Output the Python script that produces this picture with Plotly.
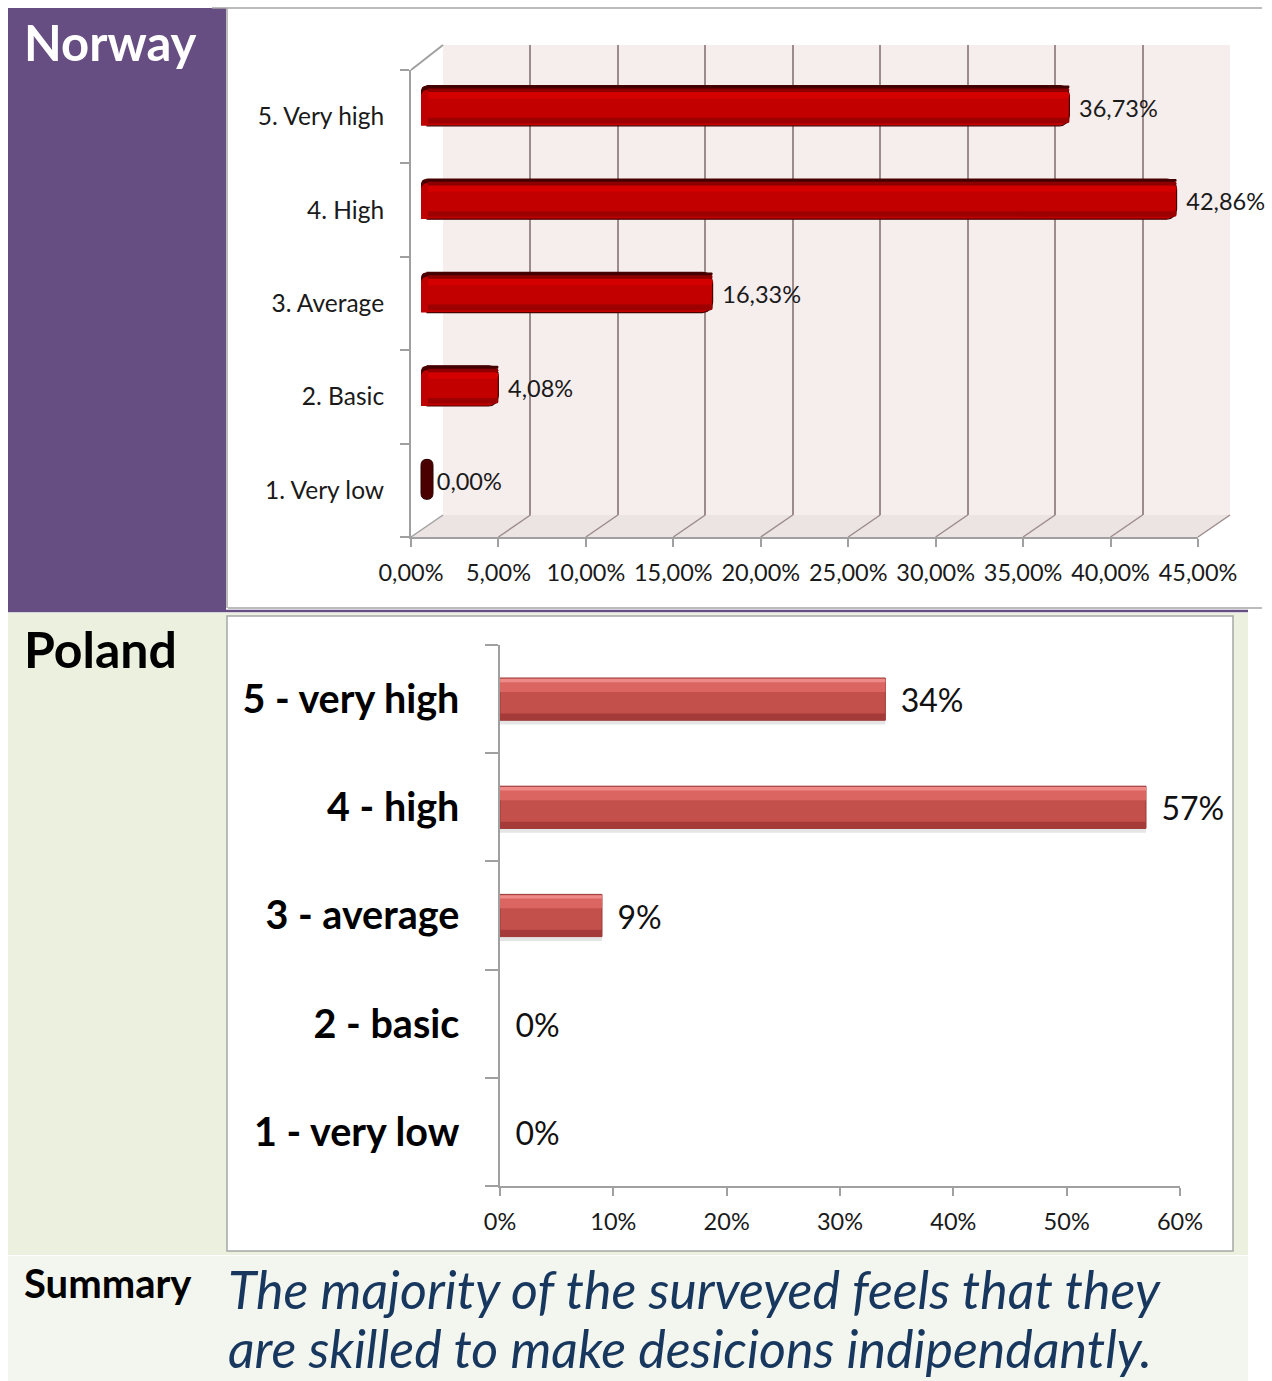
import plotly.graph_objects as go

# ---------------- data ----------------
no_cats = ["1. Very low", "2. Basic", "3. Average", "4. High", "5. Very high"]
no_vals = [0.00, 4.08, 16.33, 42.86, 36.73]
no_ticks = [0, 5, 10, 15, 20, 25, 30, 35, 40, 45]

pl_cats = ["1 - very low", "2 - basic", "3 - average", "4 - high", "5 - very high"]
pl_vals = [0, 0, 9, 57, 34]
pl_ticks = [0, 10, 20, 30, 40, 50, 60]

summary_lines = ["The majority of the surveyed feels that they",
                 "are skilled to make desicions indipendantly."]

# ---------------- page geometry helpers ----------------
W, H = 1272, 1381
FONT = "Lato"


def fx(x):
    return x / W


def fy(y):
    return 1 - y / H


def pct2(v):
    return f"{v:.2f}".replace(".", ",") + "%"


# Norway front plane (pixels) and 3D depth
NX0, NX1, NY0, NY1 = 411, 1198, 70, 537
NMAX = 45
DX, DY = 32, 22
PX_PER_UNIT = (NX1 - NX0) / NMAX


def front_px(t):
    """Pixel x of value t on the front axis of the Norway chart."""
    return NX0 + t * PX_PER_UNIT


# middle plane carrying the bars: extended a little to the left so end caps are not clipped
MID_PAD = 20
mid_range = [-MID_PAD / PX_PER_UNIT, NMAX]
mid_domain = [fx(NX0 + DX / 2 - MID_PAD), fx(NX1 + DX / 2)]

fig = go.Figure()

# empty traces so the front plane and the back wall subplots are always built
fig.add_trace(go.Scatter(x=[None], y=[None], xaxis="x", yaxis="y", mode="markers",
                         hoverinfo="skip", showlegend=False))
fig.add_trace(go.Scatter(x=[None], y=[None], xaxis="x2", yaxis="y2", mode="markers",
                         hoverinfo="skip", showlegend=False))

# ---------- Norway: bars on the middle plane (x3, y3) ----------
T = 0.43
fig.add_trace(go.Bar(x=no_vals, y=no_cats, orientation="h", width=T,
                     marker=dict(color="#C20000", line=dict(color="#4A0000", width=1.2),
                                 cornerradius=10),
                     xaxis="x3", yaxis="y3", hoverinfo="skip", showlegend=False))
fig.add_trace(go.Bar(x=no_vals, y=no_cats, orientation="h", width=0.16 * T, offset=0.18 * T,
                     marker=dict(color="#D40000", line=dict(width=0), cornerradius=4),
                     xaxis="x3", yaxis="y3", hoverinfo="skip", showlegend=False))
fig.add_trace(go.Bar(x=no_vals, y=no_cats, orientation="h", width=0.1 * T, offset=0.34 * T,
                     marker=dict(color="#8C0000", line=dict(width=0), cornerradius=3),
                     xaxis="x3", yaxis="y3", hoverinfo="skip", showlegend=False))
fig.add_trace(go.Bar(x=no_vals, y=no_cats, orientation="h", width=0.07 * T, offset=0.43 * T,
                     marker=dict(color="#420000", line=dict(width=0), cornerradius=3),
                     xaxis="x3", yaxis="y3", hoverinfo="skip", showlegend=False))
fig.add_trace(go.Bar(x=no_vals, y=no_cats, orientation="h", width=0.14 * T, offset=-0.44 * T,
                     marker=dict(color="#9C0000", line=dict(width=0), cornerradius=3),
                     xaxis="x3", yaxis="y3", hoverinfo="skip", showlegend=False))
fig.add_trace(go.Scatter(x=no_vals, y=no_cats, mode="markers+text",
                         text=[pct2(v) for v in no_vals],
                         textposition="middle right",
                         textfont=dict(family=FONT, size=23.5, color="#1A1A1A"),
                         marker=dict(size=14, opacity=0),
                         xaxis="x5", yaxis="y5", hoverinfo="skip", showlegend=False,
                         cliponaxis=False))

# ---------- Poland bars (x4, y4) ----------
TP = 0.39
pl_line_w = [0 if v == 0 else 1 for v in pl_vals]
fig.add_trace(go.Bar(x=pl_vals, y=pl_cats, orientation="h", width=TP, offset=-TP / 2 - 0.04,
                     marker=dict(color="rgba(0,0,0,0.10)", line=dict(width=0)),
                     xaxis="x4", yaxis="y4", hoverinfo="skip", showlegend=False))
fig.add_trace(go.Bar(x=pl_vals, y=pl_cats, orientation="h", width=TP,
                     marker=dict(color="#C4504C", line=dict(color="#9A3836", width=pl_line_w)),
                     xaxis="x4", yaxis="y4", hoverinfo="skip", showlegend=False))
fig.add_trace(go.Bar(x=pl_vals, y=pl_cats, orientation="h", width=0.3 * TP, offset=0.17 * TP,
                     marker=dict(color="#DB6561", line=dict(width=0)),
                     xaxis="x4", yaxis="y4", hoverinfo="skip", showlegend=False))
fig.add_trace(go.Bar(x=pl_vals, y=pl_cats, orientation="h", width=0.08 * TP, offset=0.4 * TP,
                     marker=dict(color="#EE8A87", line=dict(width=0)),
                     xaxis="x4", yaxis="y4", hoverinfo="skip", showlegend=False))
fig.add_trace(go.Bar(x=pl_vals, y=pl_cats, orientation="h", width=0.16 * TP, offset=-0.5 * TP,
                     marker=dict(color="#A43B39", line=dict(width=0)),
                     xaxis="x4", yaxis="y4", hoverinfo="skip", showlegend=False))
fig.add_trace(go.Scatter(x=pl_vals, y=pl_cats, mode="markers+text",
                         text=[f"{v:.0f}%" for v in pl_vals],
                         textposition="middle right",
                         textfont=dict(family=FONT, size=32, color="#111111"),
                         marker=dict(size=23, opacity=0),
                         xaxis="x6", yaxis="y6", hoverinfo="skip", showlegend=False,
                         cliponaxis=False))

AX_GRAY = "#A0A0A0"
GRID = "#9C8C8C"

# ---------- shapes ----------
shapes = []
# panel backgrounds
shapes.append(dict(type="rect", xref="paper", yref="paper", x0=fx(8), x1=fx(226), y0=fy(611), y1=fy(8),
                   fillcolor="#664E83", line=dict(width=0), layer="below"))
shapes.append(dict(type="rect", xref="paper", yref="paper", x0=fx(8), x1=fx(1248), y0=fy(1255), y1=fy(613),
                   fillcolor="#EBF1DE", line=dict(width=0), layer="below"))
shapes.append(dict(type="rect", xref="paper", yref="paper", x0=fx(227), x1=fx(1233), y0=fy(1251), y1=fy(616),
                   fillcolor="#FFFFFF", line=dict(color="#A6A6A6", width=1.5), layer="below"))
shapes.append(dict(type="rect", xref="paper", yref="paper", x0=fx(8), x1=fx(1248), y0=0, y1=fy(1256),
                   fillcolor="#F3F6EE", line=dict(width=0), layer="below"))
# Norway frame lines
shapes.append(dict(type="line", xref="paper", yref="paper", x0=fx(212), x1=fx(1262), y0=fy(8), y1=fy(8),
                   line=dict(color="#A6A6A6", width=1.5), layer="below"))
shapes.append(dict(type="line", xref="paper", yref="paper", x0=fx(227), x1=fx(227), y0=fy(608), y1=fy(8),
                   line=dict(color="#A6A6A6", width=1.5), layer="below"))
shapes.append(dict(type="line", xref="paper", yref="paper", x0=fx(228), x1=fx(1262), y0=fy(608), y1=fy(608),
                   line=dict(color="#A6A6A6", width=1.5), layer="below"))
shapes.append(dict(type="line", xref="paper", yref="paper", x0=fx(8), x1=fx(1248), y0=fy(611), y1=fy(611),
                   line=dict(color="#664E83", width=2.5), layer="below"))

# back wall of the 3D chart
shapes.append(dict(type="rect", xref="paper", yref="paper",
                   x0=fx(NX0 + DX), x1=fx(NX1 + DX), y0=fy(NY1 - DY), y1=fy(NY0 - DY - 3),
                   fillcolor="#F6EDED", line=dict(width=0), layer="below"))
# floor
shapes.append(dict(type="path", xref="paper", yref="paper",
                   path=(f"M{fx(NX0)},{fy(NY1)} L{fx(NX1)},{fy(NY1)} "
                         f"L{fx(NX1 + DX)},{fy(NY1 - DY)} L{fx(NX0 + DX)},{fy(NY1 - DY)} Z"),
                   fillcolor="#ECE3E3", line=dict(width=0), layer="below"))
# floor grid diagonals, one per tick of the front axis
for i, t in enumerate(no_ticks):
    xp = front_px(t)
    shapes.append(dict(type="line", xref="paper", yref="paper",
                       x0=fx(xp), x1=fx(xp + DX), y0=fy(NY1), y1=fy(NY1 - DY),
                       line=dict(color=AX_GRAY if i == 0 else GRID, width=1.5), layer="below"))
# top diagonal of the left wall
shapes.append(dict(type="line", xref="paper", yref="paper",
                   x0=fx(NX0), x1=fx(NX0 + DX), y0=fy(NY0), y1=fy(NY0 - DY - 3),
                   line=dict(color=AX_GRAY, width=2), layer="below"))
# rounded near ends of the bars, and the cap of zero-length bars
for c, v in zip(no_cats, no_vals):
    if v == 0:
        shapes.append(dict(type="path", xref="x3", yref="y3", xsizemode="pixel", ysizemode="pixel",
                           xanchor=v, yanchor=no_cats.index(c),
                           path="M-6,-14 Q-6,-20 0,-20 Q6,-20 6,-14 L6,14 Q6,20 0,20 Q-6,20 -6,14 Z",
                           fillcolor="#4A0000", line=dict(color="#2A0000", width=1), layer="above"))
    else:
        shapes.append(dict(type="path", xref="x3", yref="y3", xsizemode="pixel", ysizemode="pixel",
                           xanchor=0, yanchor=no_cats.index(c),
                           path="M1,-20 L-6,-20 L-6,13 Q-6,20 1,20 Z",
                           fillcolor="#BE0000", line=dict(width=0), layer="above"))
        shapes.append(dict(type="path", xref="x3", yref="y3", xsizemode="pixel", ysizemode="pixel",
                           xanchor=0, yanchor=no_cats.index(c),
                           path="M1,16 L1,20 L-1,20 Q-6,20 -6,14 L-6,11 Q-4,16 1,16 Z",
                           fillcolor="#4A0000", line=dict(width=0), layer="above"))

# ---------- text annotations ----------
annotations = [
    dict(text="<b>Norway</b>", x=fx(22), y=fy(42), xref="paper", yref="paper", xanchor="left",
         yanchor="middle", showarrow=False, font=dict(family=FONT, size=49, color="white")),
    dict(text="<b>Poland</b>", x=fx(22), y=fy(649), xref="paper", yref="paper", xanchor="left",
         yanchor="middle", showarrow=False, font=dict(family=FONT, size=50, color="black")),
    dict(text="<b>Summary</b>", x=fx(22), y=fy(1283), xref="paper", yref="paper", xanchor="left",
         yanchor="middle", showarrow=False, font=dict(family=FONT, size=40, color="black")),
    dict(text="<i>" + summary_lines[0] + "</i>", x=fx(226), y=fy(1289), xref="paper",
         yref="paper", xanchor="left", yanchor="middle", align="left", showarrow=False,
         font=dict(family=FONT, size=52, color="#17375E")),
    dict(text="<i>" + summary_lines[1] + "</i>", x=fx(226), y=0, xref="paper",
         yref="paper", xanchor="left", yanchor="bottom", align="left", showarrow=False,
         font=dict(family=FONT, size=52, color="#17375E")),
]

tickfont_no = dict(family=FONT, size=24.5, color="#1A1A1A")

fig.update_layout(
    width=W, height=H, autosize=False,
    margin=dict(l=0, r=0, t=0, b=0, pad=0, autoexpand=False),
    paper_bgcolor="white", plot_bgcolor="rgba(0,0,0,0)",
    barmode="overlay",
    showlegend=False,
    shapes=shapes,
    annotations=annotations,
    # Norway front plane: axes and labels
    xaxis=dict(domain=[fx(NX0), fx(NX1)], range=[0, NMAX], tickmode="array", tickvals=no_ticks,
               ticktext=[pct2(t) for t in no_ticks],
               ticks="outside", ticklen=8, tickcolor=AX_GRAY, tickwidth=1.5,
               showline=True, linecolor=AX_GRAY, linewidth=2, showgrid=False, zeroline=False,
               tickfont=dict(family=FONT, size=23.5, color="#1A1A1A"), ticklabelstandoff=6,
               anchor="y", fixedrange=True),
    yaxis=dict(domain=[fy(NY1), fy(NY0)], type="category", categoryorder="array",
               categoryarray=no_cats, range=[-0.5, len(no_cats) - 0.5], tickson="boundaries",
               ticks="outside", ticklen=9, tickcolor=AX_GRAY, tickwidth=1.5,
               showline=True, linecolor=AX_GRAY, linewidth=2, showgrid=False,
               tickfont=tickfont_no, ticklabelstandoff=20, anchor="x", fixedrange=True),
    # Norway back wall (vertical grid)
    xaxis2=dict(domain=[fx(NX0 + DX), fx(NX1 + DX)], range=[0, NMAX], tickmode="array",
                tickvals=no_ticks, showticklabels=False, ticks="", showgrid=True, gridcolor=GRID,
                gridwidth=1.5, zeroline=False, showline=False, anchor="y2", fixedrange=True),
    yaxis2=dict(domain=[fy(NY1 - DY), fy(NY0 - DY - 3)], range=[0, 1], showticklabels=False,
                ticks="", showgrid=False, zeroline=False, showline=False,
                anchor="x2", fixedrange=True),
    # Norway middle plane (bars)
    xaxis3=dict(domain=mid_domain, range=mid_range, visible=False, anchor="y3", fixedrange=True),
    yaxis3=dict(domain=[fy(NY1 - DY / 2), fy(NY0 - DY / 2)], type="category", categoryorder="array",
                categoryarray=no_cats, range=[-0.5, len(no_cats) - 0.5], visible=False,
                anchor="x3", fixedrange=True),
    # value labels of the Norway bars, a few pixels lower than the bar centres
    xaxis5=dict(domain=mid_domain, range=mid_range, visible=False, anchor="y5", fixedrange=True),
    yaxis5=dict(domain=[fy(NY1 - DY / 2 + 5), fy(NY0 - DY / 2 + 5)], type="category",
                categoryorder="array", categoryarray=no_cats, range=[-0.5, len(no_cats) - 0.5],
                visible=False, anchor="x5", fixedrange=True),
    # Poland
    xaxis4=dict(domain=[fx(500), fx(1180)], range=[0, 60], tickmode="array", tickvals=pl_ticks,
                ticktext=[f"{t}%" for t in pl_ticks],
                ticks="outside", ticklen=8, tickcolor=AX_GRAY, tickwidth=1.5,
                showline=True, linecolor=AX_GRAY, linewidth=1.5, showgrid=False, zeroline=False,
                tickfont=dict(family=FONT, size=23.5, color="#1A1A1A"), ticklabelstandoff=6,
                anchor="y4", fixedrange=True),
    yaxis4=dict(domain=[fy(1186), fy(645)], type="category", categoryorder="array",
                categoryarray=pl_cats, range=[-0.5, len(pl_cats) - 0.5], tickson="boundaries",
                ticks="outside", ticklen=13, tickcolor=AX_GRAY, tickwidth=1.5,
                showline=True, linecolor=AX_GRAY, linewidth=1.5, showgrid=False,
                tickfont=dict(family=FONT, size=39.5, color="black", weight="bold"),
                ticklabelstandoff=31, anchor="x4", fixedrange=True),
    # value labels of the Poland bars
    xaxis6=dict(domain=[fx(500), fx(1180)], range=[0, 60], visible=False, anchor="y6",
                fixedrange=True),
    yaxis6=dict(domain=[fy(1186 + 5), fy(645 + 5)], type="category", categoryorder="array",
                categoryarray=pl_cats, range=[-0.5, len(pl_cats) - 0.5], visible=False,
                anchor="x6", fixedrange=True),
)

fig.write_html("out.html", config={"displayModeBar": False})
